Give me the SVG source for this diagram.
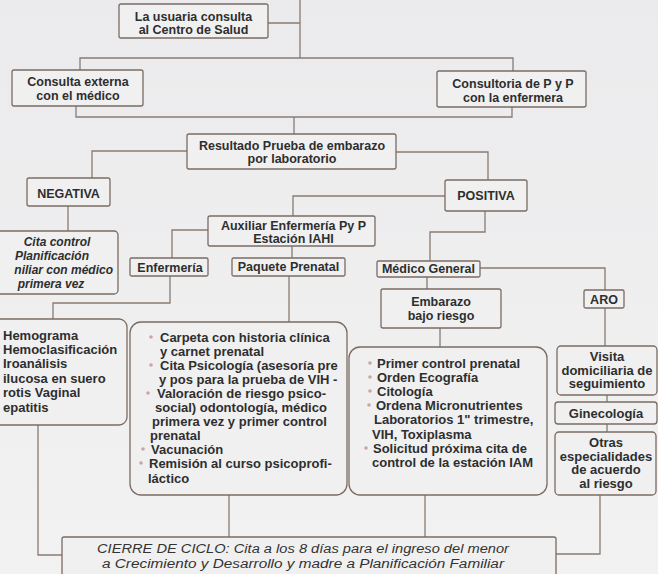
<svg xmlns="http://www.w3.org/2000/svg" width="658" height="574" viewBox="0 0 658 574">
<defs>
<linearGradient id="bg" x1="0" y1="0" x2="0" y2="1">
<stop offset="0" stop-color="#ebebed"/>
<stop offset="1" stop-color="#f2f2f2"/>
</linearGradient>
<style>
.bx{fill:#f0f0f1;stroke:#7b6b63;stroke-width:1.3}
.ln{fill:none;stroke:#8a7b72;stroke-width:1.3}
.t{font-family:"Liberation Sans",Arial,sans-serif;font-weight:bold;font-size:12.5px;fill:#2e2e2e}
.c{text-anchor:middle}
.l{font-size:13px}
.i{font-style:italic;font-size:12px}
.bul{fill:#c9a5a5}
.cl{font-family:"Liberation Sans",Arial,sans-serif;font-style:italic;font-size:12.5px;fill:#333}
</style>
</defs>
<rect width="658" height="574" fill="url(#bg)"/>

<g id="connectors">
<path class="ln" d="M268,23 H300 M300,0 V58"/>
<path class="ln" d="M80,70 V58 H513 V71"/>
<path class="ln" d="M76,106 V117 H512 V107 M294,117 V134"/>
<path class="ln" d="M187,151 H92 V178 M396,152 H488 V180"/>
<path class="ln" d="M68,206 V231"/>
<path class="ln" d="M445,196 H293 V216"/>
<path class="ln" d="M208,230 H172 V258"/>
<path class="ln" d="M292,246 V258"/>
<path class="ln" d="M170,276 V303 H53 V319"/>
<path class="ln" d="M289,276 V322"/>
<path class="ln" d="M485,211 V232 H430 V261"/>
<path class="ln" d="M480,268 H605 V290"/>
<path class="ln" d="M427,277 V289"/>
<path class="ln" d="M440,328 V347"/>
<path class="ln" d="M605,308 V346"/>
<path class="ln" d="M607,395 V402 M607,424 V432"/>
<path class="ln" d="M38,425 V555 H62"/>
<path class="ln" d="M229,495 V537"/>
<path class="ln" d="M425,495 V537"/>
<path class="ln" d="M600,495 V554 H556"/>
</g>

<g id="n-usuaria">
<rect class="bx" x="119" y="4" width="149" height="34" rx="2"/>
<text class="t c" x="193.5" y="21">La usuaria consulta</text>
<text class="t c" x="193.5" y="34">al Centro de Salud</text>
</g>

<g id="n-consulta-externa">
<rect class="bx" x="12" y="70" width="131" height="36" rx="2"/>
<text class="t c" x="78" y="85.5">Consulta externa</text>
<text class="t c" x="78" y="99.5">con el médico</text>
</g>

<g id="n-consultoria">
<rect class="bx" x="437" y="71" width="149" height="36" rx="2"/>
<text class="t c" x="513" y="87.5">Consultoria de P y P</text>
<text class="t c" x="513" y="101.5">con la enfermera</text>
</g>

<g id="n-resultado">
<rect class="bx" x="187" y="134" width="209" height="35" rx="2"/>
<text class="t c" x="292" y="149.5">Resultado Prueba de embarazo</text>
<text class="t c" x="292" y="162.5">por laboratorio</text>
</g>

<g id="n-negativa">
<rect class="bx" x="27" y="178" width="83" height="28" rx="2"/>
<text class="t c" x="68.5" y="197.5">NEGATIVA</text>
</g>

<g id="n-positiva">
<rect class="bx" x="445" y="180" width="82" height="31" rx="2"/>
<text class="t c" x="486" y="199.5">POSITIVA</text>
</g>

<g id="n-cita-control">
<rect class="bx" x="-10" y="231" width="128" height="63" rx="4"/>
<text class="t c i" x="57" y="245.5">Cita control</text>
<text class="t c i" x="52" y="259.5">Planificación</text>
<text class="t i" x="113" y="273.5" text-anchor="end">niliar con médico</text>
<text class="t c i" x="51" y="287.5">primera vez</text>
</g>

<g id="n-auxiliar">
<rect class="bx" x="208" y="216" width="167" height="30" rx="2"/>
<text class="t c" x="293.5" y="229.5">Auxiliar Enfermería Py P</text>
<text class="t c" x="293.5" y="242.5">Estación IAHI</text>
</g>

<g id="n-enfermeria">
<rect class="bx" x="130" y="258" width="78" height="18" rx="1.5"/>
<text class="t c" x="170" y="271.5">Enfermería</text>
</g>

<g id="n-paquete">
<rect class="bx" x="232" y="258" width="113" height="18" rx="1.5"/>
<text class="t c" x="288.5" y="271">Paquete Prenatal</text>
</g>

<g id="n-medico">
<rect class="bx" x="377" y="261" width="103" height="16" rx="1.5"/>
<text class="t c" x="428.5" y="273">Médico General</text>
</g>

<g id="n-embarazo">
<rect class="bx" x="381" y="289" width="120" height="39" rx="2"/>
<text class="t c" x="441" y="305.5">Embarazo</text>
<text class="t c" x="441" y="319.5">bajo riesgo</text>
</g>

<g id="n-aro">
<rect class="bx" x="584" y="290" width="40" height="18" rx="1.5"/>
<text class="t c" x="604" y="303.5">ARO</text>
</g>

<g id="n-laboratorios">
<rect class="bx" x="-10" y="319" width="137" height="106" rx="8"/>
<text class="t l" x="3" y="339.5">Hemograma</text>
<text class="t l" x="3" y="353.5">Hemoclasificación</text>
<text class="t l" x="3" y="368">Iroanálisis</text>
<text class="t l" x="3" y="382.5">ilucosa en suero</text>
<text class="t l" x="3" y="397">rotis Vaginal</text>
<text class="t l" x="3" y="411.5">epatitis</text>
</g>

<g id="n-paquete-lista">
<rect class="bx" x="130" y="322" width="217" height="173" rx="11"/>
<circle class="bul" cx="151" cy="337" r="1.8"/>
<circle class="bul" cx="151" cy="365" r="1.8"/>
<circle class="bul" cx="148" cy="393" r="1.8"/>
<circle class="bul" cx="143" cy="449" r="1.8"/>
<circle class="bul" cx="141" cy="463" r="1.8"/>
<text class="t l" x="160" y="341.5">Carpeta con historia clínica</text>
<text class="t l" x="160" y="355.6">y carnet prenatal</text>
<text class="t l" x="160" y="369.7">Cita Psicología (asesoría pre</text>
<text class="t l" x="159" y="383.8">y pos para la prueba de VIH -</text>
<text class="t l" x="157" y="397.9">Valoración de riesgo psico-</text>
<text class="t l" x="155" y="412">social) odontología, médico</text>
<text class="t l" x="152" y="426.1">primera vez y primer control</text>
<text class="t l" x="150" y="440.2">prenatal</text>
<text class="t l" x="151" y="454.3">Vacunación</text>
<text class="t l" x="149" y="468.4">Remisión al curso psicoprofi-</text>
<text class="t l" x="148" y="482.5">láctico</text>
</g>

<g id="n-primer-control">
<rect class="bx" x="349" y="347" width="198" height="148" rx="11"/>
<circle class="bul" cx="370" cy="363" r="1.8"/>
<circle class="bul" cx="370" cy="377" r="1.8"/>
<circle class="bul" cx="370" cy="391" r="1.8"/>
<circle class="bul" cx="369" cy="405" r="1.8"/>
<circle class="bul" cx="366" cy="448" r="1.8"/>
<text class="t l" x="377" y="367.5">Primer control prenatal</text>
<text class="t l" x="377" y="381.7">Orden Ecografía</text>
<text class="t l" x="377" y="395.9">Citología</text>
<text class="t l" x="376" y="410.1">Ordena Micronutrientes</text>
<text class="t l" x="374" y="424.3">Laboratorios 1" trimestre,</text>
<text class="t l" x="372" y="438.5">VIH, Toxiplasma</text>
<text class="t l" x="373" y="452.7">Solicitud próxima cita de</text>
<text class="t l" x="372" y="466.9">control de la estación IAM</text>
</g>

<g id="n-visita">
<rect class="bx" x="557" y="346" width="100" height="49" rx="4"/>
<text class="t c l" x="607" y="361">Visita</text>
<text class="t c l" x="607" y="374.5">domiciliaria de</text>
<text class="t c l" x="607" y="388">seguimiento</text>
</g>

<g id="n-ginecologia">
<rect class="bx" x="555" y="402" width="102" height="22" rx="3"/>
<text class="t c l" x="606" y="417.5">Ginecología</text>
</g>

<g id="n-otras">
<rect class="bx" x="555" y="432" width="101" height="63" rx="4"/>
<text class="t c l" x="606" y="446.5">Otras</text>
<text class="t c l" x="606" y="460.5">especialidades</text>
<text class="t c l" x="606" y="474">de acuerdo</text>
<text class="t c l" x="606" y="488">al riesgo</text>
</g>

<g id="n-cierre">
<rect class="bx" x="62" y="537" width="494" height="45" rx="2"/>
<text class="cl" x="97" y="553" textLength="412" lengthAdjust="spacingAndGlyphs">CIERRE DE CICLO: Cita a los 8 días para el ingreso del menor</text>
<text class="cl" x="102" y="567.5" textLength="402" lengthAdjust="spacingAndGlyphs">a Crecimiento y Desarrollo y madre a Planificación Familiar</text>
</g>
</svg>
